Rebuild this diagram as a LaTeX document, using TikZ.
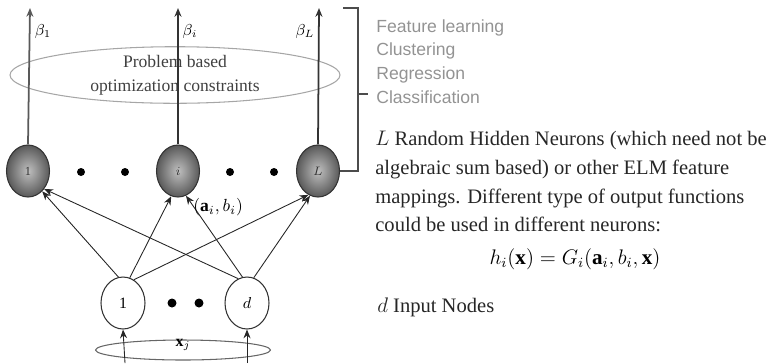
\documentclass[tikz,border=0pt]{standalone}
\usepackage{amsmath,amssymb}
\usepackage{fontspec}
\setmainfont{Liberation Serif}
\newfontfamily\labelfont{Liberation Sans}
\usepackage{tikz}
\usetikzlibrary{positioning,arrows.meta,shapes.geometric,calc}

\begin{document}
\begin{tikzpicture}[x=0.02cm, y=-0.02cm,
  hidden/.style={ellipse, draw=black!80, line width=0.6pt, shading=radial,
    inner color=gray!50, outer color=black!65, minimum width=0.86cm,
    minimum height=1.04cm, inner sep=0pt, font=\scriptsize, text=black!80},
  input/.style={ellipse, draw=black!80, line width=0.6pt, fill=white,
    minimum width=0.88cm, minimum height=1.04cm, inner sep=0pt, font=\small},
  constr/.style={ellipse, draw=gray!70, line width=0.6pt, inner sep=0pt},
  arr/.style={-{Stealth[length=5pt,width=4pt]}, line width=0.5pt, black!85},
  outarr/.style={-{Stealth[length=5pt,width=4pt]}, line width=1pt, black!80},
  task/.style={font=\labelfont\fontsize{10}{13.6}\selectfont, text=gray!85,
    align=left, inner sep=0pt, anchor=north west},
  note/.style={font=\fontsize{11.7}{16.3}\selectfont, text=black!85,
    align=left, inner sep=0pt, anchor=north west},
]
\useasboundingbox (0,0) rectangle (766,363);

% optimization constraints ellipse
\node[constr, minimum width=6.6cm, minimum height=0.94cm, align=center,
  font=\fontsize{10}{13.7}\selectfont, text=black!75] (opt) at (175,75)
  {Problem based\\optimization constraints};

% hidden layer
\node[hidden] (h1) at (28,171) {1};
\node[hidden] (hi) at (178,171) {$i$};
\node[hidden] (hL) at (318,171) {$L$};
\foreach \x in {81,125,230,274} \fill (\x,172) circle (4);

% input layer
\node[input] (x1) at (123,303) {1};
\node[input] (xd) at (247,303) {$d$};
\foreach \x in {172,199} \fill (\x,303) circle (4.5);

% input sample
\node[constr, draw=black!60, minimum width=3.5cm, minimum height=0.4cm] (xs) at (183,350) {};
\node[font=\small, inner sep=0pt] (xlab) at (183,345) {$\mathbf{x}_j$};
\coordinate (in1) at (125,363);
\coordinate (ind) at (247,363);
\draw[arr] (in1) -- (x1.south);
\draw[arr] (ind) -- (xd.south);

% random hidden mappings
\draw[arr] (x1.100) -- (h1.-55);
\draw[arr] (x1.75) -- (hi.-105);
\draw[arr] (x1.65) -- (hL.-112);
\draw[arr] (xd.110) -- (h1.-48);
\draw[arr] (xd.100) -- (hi.-72);
\draw[arr] (xd.75) -- (hL.-108);
\node[font=\fontsize{10}{12}\selectfont, anchor=west, inner sep=0pt] (ab) at (193,207) {$(\mathbf{a}_i,b_i)$};

% output weights
\coordinate (o1) at (30,8);
\coordinate (oi) at (178,8);
\coordinate (oL) at (319,8);
\draw[outarr, gray!70!black] (h1.north) -- (o1);
\draw[outarr] (hi.north) -- (oi);
\draw[outarr] (hL.north) -- (oL);
\node[font=\small] (b1) at (43,32) {$\beta_1$};
\node[font=\small] (bi) at (190,32) {$\beta_i$};
\node[font=\small] (bL) at (305,32) {$\beta_L$};

% bracket to the tasks
\coordinate (brtop) at (358,8);
\coordinate (brmid) at (358,94);
\draw[line width=0.8pt, black!70] (hL.east) -| (brtop) -- ++(-15,0);
\draw[line width=0.8pt, black!70] (brmid) -- ++(10,0);
\node[task] (tasks) at (376,19) {Feature learning\\Clustering\\Regression\\Classification};

% notes
\node[note] (hnote) at (375,131) {$L$ Random Hidden Neurons (which need not be\\
  algebraic sum based) or other ELM feature\\
  mappings. Different type of output functions\\
  could be used in different neurons:};
\node[font=\fontsize{12}{14}\selectfont, inner sep=0pt] (hfun) at (575,259)
  {$h_i(\mathbf{x}) = G_i(\mathbf{a}_i, b_i, \mathbf{x})$};
\node[note] (inote) at (377,297) {$d$ Input Nodes};
\end{tikzpicture}
\end{document}
